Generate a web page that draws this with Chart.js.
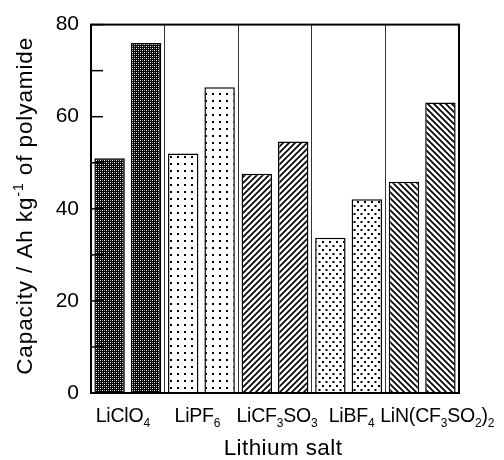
<!DOCTYPE html>
<html>
<head>
<meta charset="utf-8">
<script src="https://cdn.jsdelivr.net/npm/chart.js@4.4.1/dist/chart.umd.min.js"></script>
<style>
  html, body { margin: 0; padding: 0; background: #fff; }
  #wrap { width: 504px; height: 460px; position: relative; }
</style>
</head>
<body>
<div id="wrap"><canvas id="barChart"></canvas></div>
<script>
// data
const salts = ['LiClO_4', 'LiPF_6', 'LiCF_3SO_3', 'LiBF_4', 'LiN(CF_3SO_2)_2'];
const firstBar = [51, 52, 47.6, 33.7, 45.9];
const secondBar = [76, 66.4, 54.6, 42.1, 63.1];
const yLabelTicks = [0, 20, 40, 60, 80];
const xTitle = 'Lithium salt';
const yTitle = 'Capacity / Ah kg^-1 of polyamide';

// label nudges (px) so the long names don't collide, like the original
const labelShift = [-5, -4, 2, 3, 15];

const FONT = '"Liberation Sans", Arial, Helvetica, sans-serif';

// "_x" -> subscript char, "^..." -> superscript until space
function parseRich(str) {
  const segs = [];
  let i = 0, buf = '';
  while (i < str.length) {
    const c = str[i];
    if (c === '_' || c === '^') {
      if (buf) segs.push({ t: buf, mode: 0 });
      buf = '';
      let j = i + 1, s = '';
      if (c === '_') { s = str[j]; j++; }
      else { while (j < str.length && str[j] !== ' ') { s += str[j]; j++; } }
      segs.push({ t: s, mode: c === '_' ? 1 : -1 });
      i = j;
    } else { buf += c; i++; }
  }
  if (buf) segs.push({ t: buf, mode: 0 });
  return segs;
}

function drawRich(ctx, str, cx, y, size, spacing) {
  const segs = parseRich(str);
  const small = Math.round(size * 0.6);
  const fontOf = s => (s.mode ? small : size) + 'px ' + FONT;
  ctx.letterSpacing = (spacing || 0) + 'px';
  let w = 0;
  segs.forEach(s => { ctx.font = fontOf(s); w += ctx.measureText(s.t).width; });
  let x = cx - w / 2;
  ctx.textAlign = 'left';
  ctx.textBaseline = 'alphabetic';
  ctx.fillStyle = '#000';
  segs.forEach(s => {
    ctx.font = fontOf(s);
    const dy = s.mode === 1 ? size * 0.27 : s.mode === -1 ? -size * 0.4 : 0;
    ctx.fillText(s.t, x, y + dy);
    x += ctx.measureText(s.t).width;
  });
  ctx.letterSpacing = '0px';
}

const canvas = document.getElementById('barChart');
const ctx = canvas.getContext('2d');

function makePattern(w, h, draw) {
  const c = document.createElement('canvas');
  c.width = w; c.height = h;
  const g = c.getContext('2d');
  g.fillStyle = '#fff';
  g.fillRect(0, 0, w, h);
  g.fillStyle = '#000';
  g.strokeStyle = '#000';
  draw(g, w, h);
  return ctx.createPattern(c, 'repeat');
}

const darkFill = makePattern(4, 4, g => {
  g.fillRect(0, 0, 4, 4);
  g.fillStyle = '#fff';
  g.fillRect(0, 0, 1, 1);
  g.fillRect(2, 2, 1, 1);
  g.fillStyle = '#888';
  g.fillRect(2, 0, 1, 1);
  g.fillRect(0, 2, 1, 1);
});
const sparseDots = makePattern(7, 7, g => { g.fillRect(2, 2, 2, 2); });
const stagDots = makePattern(7, 8, g => { g.fillRect(0, 1, 2, 2); g.fillRect(3.5, 5, 2, 2); });
const hatchUp = makePattern(6, 6, (g, w, h) => {
  g.lineWidth = 1.7;
  g.beginPath();
  g.moveTo(-1, h + 1); g.lineTo(w + 1, -1);
  g.moveTo(-1, 1); g.lineTo(1, -1);
  g.moveTo(w - 1, h + 1); g.lineTo(w + 1, h - 1);
  g.stroke();
});
const hatchDown = makePattern(6, 6, (g, w, h) => {
  g.lineWidth = 1.7;
  g.beginPath();
  g.moveTo(-1, -1); g.lineTo(w + 1, h + 1);
  g.moveTo(w - 1, -1); g.lineTo(w + 1, 1);
  g.moveTo(-1, h - 1); g.lineTo(1, h + 1);
  g.stroke();
});
const fills = [darkFill, sparseDots, hatchUp, stagDots, hatchDown];

const framePlugin = {
  id: 'frame',
  afterDraw(chart) {
    const c = chart.ctx;
    const a = chart.chartArea;
    const x = chart.scales.x, y = chart.scales.y;
    c.save();
    c.strokeStyle = '#000';
    // inward ticks
    c.lineWidth = 1.5;
    y.ticks.forEach(t => {
      const py = y.getPixelForValue(t.value);
      c.beginPath();
      c.moveTo(a.left, py);
      c.lineTo(a.left + 12, py);
      c.stroke();
    });
    c.lineWidth = 2;
    c.strokeRect(a.left, a.top, a.right - a.left, a.bottom - a.top);
    // category labels with subscripts
    salts.forEach((s, i) => {
      drawRich(c, s, x.getPixelForValue(i) + labelShift[i], 422, 19.5, -0.2);
    });
    drawRich(c, xTitle, (a.left + a.right) / 2 + 8, 455, 22.5, 0.4);
    c.translate(32, (a.top + a.bottom) / 2 - 3);
    c.rotate(-Math.PI / 2);
    drawRich(c, yTitle, 0, 0, 22.5, 0.9);
    c.restore();
  }
};

new Chart(canvas, {
  type: 'bar',
  data: {
    labels: salts,
    datasets: [
      { data: firstBar, backgroundColor: fills, borderColor: '#000', borderWidth: 1.5, categoryPercentage: 0.99, barPercentage: 0.835 },
      { data: secondBar, backgroundColor: fills, borderColor: '#000', borderWidth: 1.5, categoryPercentage: 0.99, barPercentage: 0.835 }
    ]
  },
  options: {
    responsive: true,
    maintainAspectRatio: false,
    animation: false,
    layout: { padding: { left: 0, top: 22, right: 45, bottom: 67 } },
    scales: {
      x: {
        grid: { display: true, offset: true, color: '#333', lineWidth: 1, drawTicks: false },
        border: { display: false },
        ticks: { display: false },
        afterFit: s => { s.height = 0; }
      },
      y: {
        min: 0,
        max: 80,
        ticks: {
          stepSize: 10,
          padding: 12,
          color: '#000',
          font: { size: 21, family: FONT },
          callback: v => yLabelTicks.includes(v) ? v : ''
        },
        grid: { drawOnChartArea: false, drawTicks: false },
        border: { display: false },
        afterFit: s => { s.width = 91; }
      }
    },
    plugins: { legend: { display: false }, tooltip: { enabled: false } }
  },
  plugins: [framePlugin]
});
</script>
</body>
</html>
